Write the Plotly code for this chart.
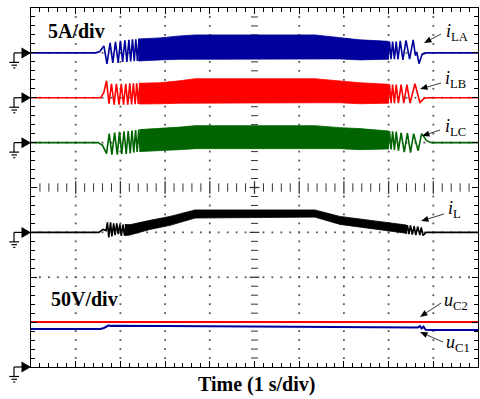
import math
import plotly.graph_objects as go

# ---------------- data (time in s, currents in A, voltages in V) ----------------
A_PER_DIV = 5.0
V_PER_DIV = 50.0
OFF_LA, OFF_LB, OFF_LC, OFF_L, OFF_U = 3, 2, 1, -1, -4   # channel ground levels (div)

ila_start_t = [0, 1.45, 1.54, 1.63, 1.70, 1.77, 1.83, 1.89, 1.95, 2.00, 2.05, 2.10, 2.145, 2.19, 2.23, 2.27, 2.31, 2.345, 2.38, 2.415, 2.45]
ila_start_a = [0, 0, 0.15, 0.78, -1.23, 1.11, -1.11, 1.23, -1.11, 1.34, -1.0, 1.40, -1.0, 1.45, -0.95, 1.5, -0.92, 1.52, -0.9, 1.55, -0.89]
ila_env_t = [2.40, 2.89, 3.33, 3.67, 6.35, 6.91, 7.36, 7.81, 8.0]
ila_env_hi = [1.55, 1.67, 1.89, 2.0, 2.0, 1.67, 1.45, 1.34, 1.28]
ila_env_lo = [-0.9, -0.78, -0.72, -0.67, -0.67, -0.67, -0.78, -0.72, -0.7]
ila_end_t = [7.95, 7.985, 8.02, 8.055, 8.09, 8.13, 8.17, 8.21, 8.26, 8.32, 8.39, 8.47, 8.55, 8.60, 8.63, 8.68, 8.75, 8.85, 10]
ila_end_a = [1.28, -0.7, 1.27, -0.7, 1.25, -0.7, 1.25, -0.72, 1.34, -0.78, 1.40, -0.7, 1.45, -0.3, 0.1, -1.2, -0.15, 0, 0]

ilb_start_t = [0, 1.56, 1.63, 1.69, 1.745, 1.80, 1.86, 1.91, 1.97, 2.02, 2.07, 2.12, 2.165, 2.21, 2.25, 2.29, 2.33, 2.365, 2.40, 2.435, 2.47]
ilb_start_a = [0, 0, 0.6, 1.89, -0.67, 1.56, -0.78, 1.56, -0.78, 1.56, -0.78, 1.56, -0.78, 1.6, -0.75, 1.6, -0.72, 1.62, -0.7, 1.64, -0.69]
ilb_env_t = [2.42, 2.89, 3.33, 3.67, 6.35, 6.91, 7.36, 8.0]
ilb_env_hi = [1.62, 1.67, 1.89, 2.12, 2.12, 1.89, 1.67, 1.5]
ilb_env_lo = [-0.7, -0.67, -0.61, -0.56, -0.56, -0.56, -0.67, -0.6]
ilb_end_t = [7.95, 7.985, 8.02, 8.055, 8.09, 8.13, 8.17, 8.22, 8.28, 8.34, 8.41, 8.48, 8.59, 8.70, 8.80, 8.90, 10]
ilb_end_a = [1.5, -0.6, 1.5, -0.6, 1.48, -0.6, 1.47, -0.6, 1.45, -0.6, 1.45, -0.6, 1.56, -0.52, -0.05, 0, 0]

ilc_start_t = [0, 1.50, 1.60, 1.69, 1.75, 1.81, 1.87, 1.93, 1.98, 2.03, 2.08, 2.13, 2.175, 2.22, 2.26, 2.30, 2.34, 2.375, 2.41, 2.445, 2.48]
ilc_start_a = [0, 0, -0.3, -1.23, 1.0, -1.34, 1.11, -1.34, 1.2, -1.3, 1.25, -1.25, 1.3, -1.2, 1.35, -1.1, 1.4, -1.05, 1.45, -1.0, 1.48]
ilc_env_t = [2.43, 2.89, 3.33, 3.67, 6.35, 6.91, 7.36, 8.0]
ilc_env_hi = [1.45, 1.56, 1.73, 1.89, 1.89, 1.67, 1.56, 1.3]
ilc_env_lo = [-1.0, -0.89, -0.78, -0.67, -0.67, -0.67, -0.78, -0.7]
ilc_end_t = [7.95, 7.985, 8.02, 8.055, 8.09, 8.13, 8.17, 8.22, 8.28, 8.35, 8.42, 8.49, 8.56, 8.66, 8.74, 8.85, 8.96, 10]
ilc_end_a = [1.3, -0.7, 1.28, -0.75, 1.25, -0.8, 1.23, -0.9, 1.1, -1.05, 1.05, -1.1, 1.0, -0.9, 1.0, 0.22, 0, 0]

il_start_t = [0, 1.52, 1.61, 1.68, 1.71, 1.74, 1.78, 1.81, 1.85, 1.88, 1.92, 1.95, 1.99, 2.02, 2.06, 2.09, 2.13, 2.16, 2.20]
il_start_a = [0, 0, 0.33, 0.2, 1.11, -0.56, 1.11, -0.45, 1.0, -0.3, 1.0, -0.2, 0.9, -0.4, 0.88, -0.35, 0.9, -0.3, 0.9]
il_env_t = [2.10, 2.21, 2.66, 3.11, 3.67, 6.35, 6.91, 7.58, 8.26, 8.40]
il_env_hi = [0.88, 0.85, 1.34, 1.78, 2.5, 2.5, 1.78, 1.34, 0.89, 0.82]
il_env_lo = [-0.35, -0.3, 0.33, 0.78, 1.6, 1.7, 0.89, 0.45, 0.0, -0.1]
il_end_t = [8.35, 8.385, 8.42, 8.455, 8.49, 8.53, 8.57, 8.61, 8.65, 8.70, 8.73, 8.77, 8.84, 10]
il_end_a = [0.82, -0.15, 0.8, -0.2, 0.78, -0.25, 0.7, -0.3, 0.65, -0.3, 0.55, -0.35, 0, 0]

uc2_t = [0, 10]
uc2_v = [50.1, 50.1]
uc1_t = [0, 1.55, 1.63, 1.70, 1.74, 1.78, 1.85, 3.0, 5.0, 7.0, 8.65, 8.70, 8.74, 8.78, 8.83, 8.95, 10]
uc1_v = [42.3, 42.3, 43.5, 45.5, 46.5, 45.8, 46.0, 45.7, 45.0, 44.3, 44.0, 45.5, 43.0, 45.0, 41.5, 41.2, 41.2]

BLUE, RED, GREEN, BLACK = '#00009C', '#FF0000', '#006400', '#000000'
SERIF = 'Liberation Serif'

# ---------------- figure ----------------
W, H = 480, 399
ML, MR, MT, MB = 31, 2, 8, 32
PW, PH = W - ML - MR, H - MT - MB


def X(px):
    return (px - ML) / PW


def Y(py):
    return (H - MB - py) / PH


def cur(off, vals):
    return [off + v / A_PER_DIV for v in vals]


def volt(off, vals):
    return [off + v / V_PER_DIV for v in vals]


fig = go.Figure()

# oscilloscope grid dots
gx, gy = [], []
for k in range(1, 10):
    if k == 5:
        continue
    for j in range(1, 40):
        yv = -4 + j * 0.2
        if abs(yv) < 1e-9:
            continue
        gx.append(k)
        gy.append(yv)
for k in [-3, -2, -1, 1, 2, 3]:
    for j in range(1, 50):
        xv = j * 0.2
        if abs(xv - 5) < 1e-9:
            continue
        gx.append(xv)
        gy.append(k)
fig.add_trace(go.Scatter(x=gx, y=gy, mode='markers', hoverinfo='skip',
                         marker=dict(symbol='square', size=1.8, color='#555', line=dict(width=0))))

# center cross ticks
cx_min = [j * 0.2 for j in range(1, 50) if j % 5]
cx_maj = [float(j) for j in range(1, 10)]
cy_min = [-4 + j * 0.2 for j in range(1, 40) if j % 5]
cy_maj = [float(j) for j in range(-3, 4)]
fig.add_trace(go.Scatter(x=cx_min, y=[0] * len(cx_min), mode='markers', hoverinfo='skip',
                         marker=dict(symbol='line-ns', size=6, line=dict(width=1, color='#333'))))
fig.add_trace(go.Scatter(x=cx_maj, y=[0] * len(cx_maj), mode='markers', hoverinfo='skip',
                         marker=dict(symbol='line-ns', size=9, line=dict(width=1.3, color='#333'))))
fig.add_trace(go.Scatter(x=[5] * len(cy_min), y=cy_min, mode='markers', hoverinfo='skip',
                         marker=dict(symbol='line-ew', size=5, line=dict(width=1, color='#333'))))
fig.add_trace(go.Scatter(x=[5] * len(cy_maj), y=cy_maj, mode='markers', hoverinfo='skip',
                         marker=dict(symbol='line-ew', size=7, line=dict(width=1.3, color='#333'))))

channels = [
    (OFF_LA, BLUE, ila_start_t, ila_start_a, ila_env_t, ila_env_hi, ila_env_lo, ila_end_t, ila_end_a),
    (OFF_LB, RED, ilb_start_t, ilb_start_a, ilb_env_t, ilb_env_hi, ilb_env_lo, ilb_end_t, ilb_end_a),
    (OFF_LC, GREEN, ilc_start_t, ilc_start_a, ilc_env_t, ilc_env_hi, ilc_env_lo, ilc_end_t, ilc_end_a),
    (OFF_L, BLACK, il_start_t, il_start_a, il_env_t, il_env_hi, il_env_lo, il_end_t, il_end_a),
]
for off, col, st, sa, et, eh, el, nt, na in channels:
    fig.add_trace(go.Scatter(x=et + et[::-1], y=cur(off, eh) + cur(off, el)[::-1],
                             mode='lines', fill='toself', fillcolor=col, hoverinfo='skip',
                             line=dict(color=col, width=0.8)))
    fig.add_trace(go.Scatter(x=st, y=cur(off, sa), mode='lines', hoverinfo='skip',
                             line=dict(color=col, width=1.6)))
    fig.add_trace(go.Scatter(x=nt, y=cur(off, na), mode='lines', hoverinfo='skip',
                             line=dict(color=col, width=1.6)))

fig.add_trace(go.Scatter(x=uc1_t, y=volt(OFF_U, uc1_v), mode='lines', hoverinfo='skip',
                         line=dict(color=BLUE, width=2)))
fig.add_trace(go.Scatter(x=uc2_t, y=volt(OFF_U, uc2_v), mode='lines', hoverinfo='skip',
                         line=dict(color=RED, width=2)))

# ground markers
shapes = []
for off in [OFF_LA, OFF_LB, OFF_LC, OFF_L, OFF_U]:
    yp = (off + 4) / 8.0
    d = 1.0 / PH
    shapes.append(dict(type='path', xref='paper', yref='paper',
                       path=f'M {X(21.5)},{yp + 5.5 * d} L {X(31)},{yp} L {X(21.5)},{yp - 5.5 * d} Z',
                       fillcolor='black', line=dict(width=0)))
    ln = dict(color='black', width=1.2)
    shapes.append(dict(type='line', xref='paper', yref='paper', x0=X(14), x1=X(23), y0=yp, y1=yp, line=ln))
    shapes.append(dict(type='line', xref='paper', yref='paper', x0=X(14), x1=X(14), y0=yp, y1=yp - 9.5 * d, line=ln))
    shapes.append(dict(type='line', xref='paper', yref='paper', x0=X(9.3), x1=X(19), y0=yp - 9.5 * d, y1=yp - 9.5 * d, line=ln))
    shapes.append(dict(type='line', xref='paper', yref='paper', x0=X(11.5), x1=X(17), y0=yp - 12.3 * d, y1=yp - 12.3 * d, line=ln))
    shapes.append(dict(type='line', xref='paper', yref='paper', x0=X(13.3), x1=X(15.3), y0=yp - 15 * d, y1=yp - 15 * d, line=ln))


def arrow(tail, tip, head_len=7.5, head_half=3.0):
    """Pointer line with a filled triangular head (pixel coordinates)."""
    dx, dy = tip[0] - tail[0], tip[1] - tail[1]
    L = math.hypot(dx, dy)
    ux, uy = dx / L, dy / L
    bx, by = tip[0] - ux * head_len, tip[1] - uy * head_len
    px, py = -uy, ux
    shapes.append(dict(type='line', xref='paper', yref='paper', x0=X(tail[0]), y0=Y(tail[1]),
                       x1=X(bx), y1=Y(by), line=dict(color='#222', width=0.9)))
    shapes.append(dict(type='path', xref='paper', yref='paper',
                       path=(f'M {X(tip[0])},{Y(tip[1])} L {X(bx + px * head_half)},{Y(by + py * head_half)} '
                             f'L {X(bx - px * head_half)},{Y(by - py * head_half)} Z'),
                       fillcolor='black', line=dict(width=0)))


arrow((441, 34), (424, 43))
arrow((441, 83), (420, 89))
arrow((440, 130), (422, 136))
arrow((444, 214), (421, 221))
arrow((441, 303), (420, 317))
arrow((443, 342), (420, 332))

ann = []


def label(text, px, py, size=20, xanchor='left'):
    ann.append(dict(text=text, xref='paper', yref='paper', x=X(px), y=Y(py), xanchor=xanchor,
                    yanchor='middle', showarrow=False,
                    font=dict(family=SERIF, size=size, color='black')))


label('<b>5A/div</b>', 46, 31)
label('<b>50V/div</b>', 49, 299)
label('<b>Time (1 s/div)</b>', 256, 385, xanchor='center')
label('<i>i</i><sub>LA</sub>', 444, 33, size=18)
label('<i>i</i><sub>LB</sub>', 443, 80, size=18)
label('<i>i</i><sub>LC</sub>', 443, 127, size=18)
label('<i>i</i><sub>L</sub>', 446, 210, size=18)
label('<i>u</i><sub>C2</sub>', 442, 301, size=18)
label('<i>u</i><sub>C1</sub>', 444, 343, size=18)

axis_common = dict(showgrid=False, zeroline=False, showline=True, linecolor='black', linewidth=1,
                   mirror='allticks', ticks='inside', ticklen=6, tickwidth=1, tickcolor='black',
                   dtick=1, tick0=0, showticklabels=False, fixedrange=True,
                   minor=dict(ticks='inside', ticklen=4, dtick=0.2, tick0=0, tickcolor='black',
                              tickwidth=1, showgrid=False))
fig.update_xaxes(range=[0, 10], **axis_common)
fig.update_yaxes(range=[-4, 4], **axis_common)
fig.update_layout(width=W, height=H, margin=dict(l=ML, r=MR, t=MT, b=MB),
                  paper_bgcolor='white', plot_bgcolor='white', showlegend=False,
                  shapes=shapes, annotations=ann)
fig.write_html('out.html')
